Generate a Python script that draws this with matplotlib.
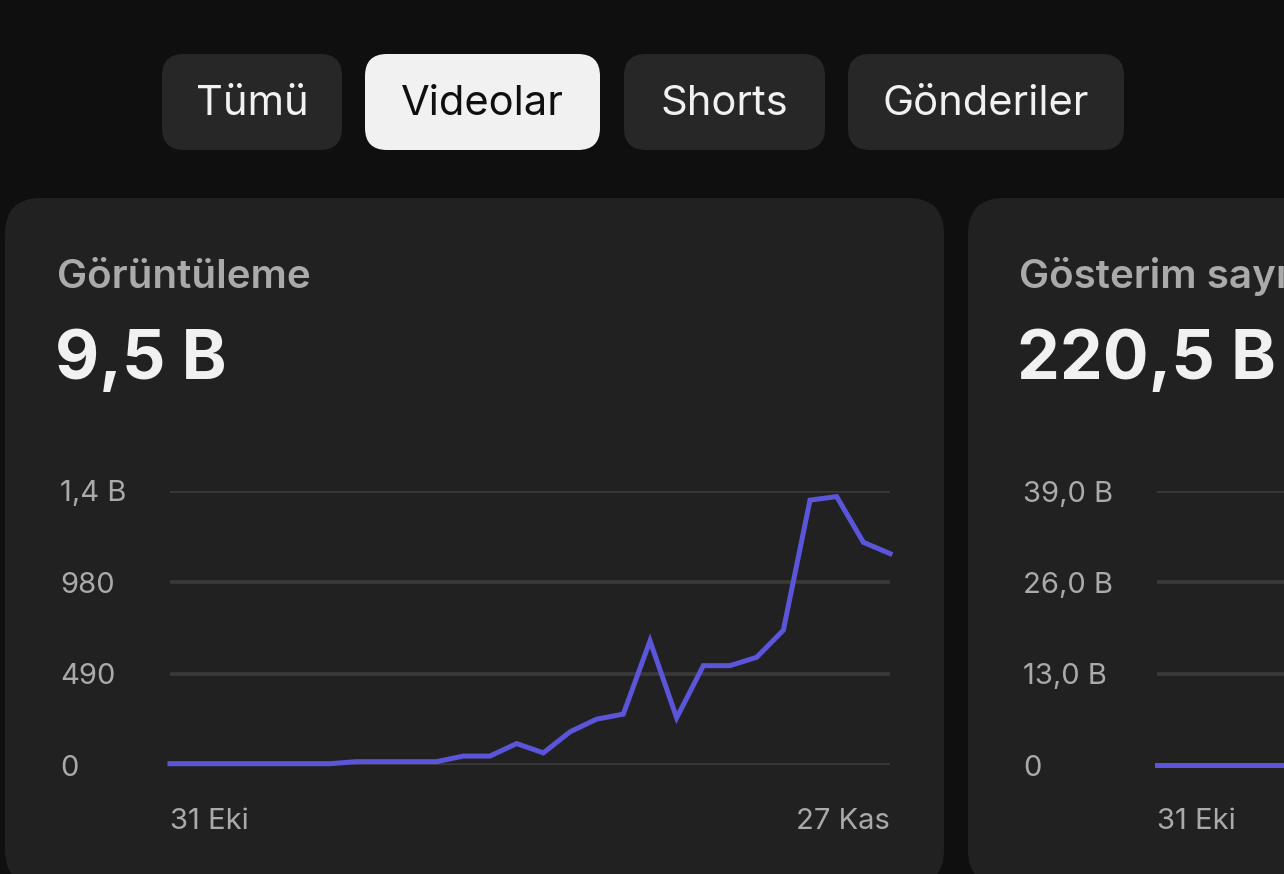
import matplotlib
matplotlib.use("Agg")
import matplotlib.pyplot as plt
from matplotlib.patches import FancyBboxPatch

plt.rcParams['font.family'] = ['Inter', 'DejaVu Sans']

W, H = 1284, 874

# tabs
tab_names = ["Tümü", "Videolar", "Shorts", "Gönderiler"]
tab_left = [162, 365, 624, 848]
tab_right = [342, 600, 825, 1124]
active_tab = "Videolar"

# card 1: views per day (31 Eki .. 27 Kas)
views = [7, 7, 7, 7, 7, 7, 7, 18, 18, 18, 18, 48, 48, 115, 65, 178,
         246, 273, 666, 253, 533, 533, 578, 723, 1421, 1440, 1195, 1134]
views_ticks = [0, 490, 980, 1470]
views_ticklabels = ["0", "490", "980", "1,4 B"]

# card 2: impressions, only the start is visible
impressions = [0, 0, 0, 0, 0, 0]
impr_ticks = [0, 13000, 26000, 39000]
impr_ticklabels = ["0", "13,0 B", "26,0 B", "39,0 B"]

date_labels = ["31 Eki", "27 Kas"]

bg = "#0f0f0f"
card = "#212121"
grey = "#aaaaaa"
purple = "#5b55d9"

fig = plt.figure(figsize=(W / 100, H / 100), dpi=100, facecolor=bg)
bgax = fig.add_axes([0, 0, 1, 1])
bgax.set_xlim(0, W)
bgax.set_ylim(H, 0)
bgax.axis("off")


def rbox(x0, y0, x1, y1, r, color):
    p = FancyBboxPatch((x0 + r, y0 + r), x1 - x0 - 2 * r, y1 - y0 - 2 * r,
                       boxstyle="round,pad=%d" % r, fc=color, ec="none")
    bgax.add_patch(p)


for name, l, r in zip(tab_names, tab_left, tab_right):
    on = name == active_tab
    rbox(l, 54, r, 150, 22, "#f1f1f1" if on else "#272727")
    bgax.text((l + r) / 2, 104, name, ha="center", va="center", fontsize=30,
              color="#0f0f0f" if on else "#f1f1f1")

# cards
rbox(5, 198, 944, 886, 36, card)
rbox(968, 198, 2000, 886, 36, card)

bgax.text(57, 277, "Görüntüleme", fontsize=29, color=grey, weight="semibold", va="center")
bgax.text(55, 361, "9,5 B", fontsize=49, color="#f1f1f1", weight="bold", va="center")
bgax.text(1019, 277, "Gösterim sayısı", fontsize=29, color=grey, weight="semibold", va="center")
bgax.text(1017, 361, "220,5 B", fontsize=49, color="#f1f1f1", weight="bold", va="center")


def chart(left, data, ticks, ticklabels, ypad, dates):
    ax = fig.add_axes([left / W, 1 - 765 / H, 720 / W, (765 - 491) / H])
    ax.set_facecolor("none")
    ax.plot(range(len(data)), data, color=purple, lw=3.6, clip_on=False,
            solid_joinstyle="miter", zorder=3)
    ax.set_xlim(0, 27)
    ax.set_ylim(ticks[0], ticks[-1])
    ax.set_yticks(ticks)
    ax.set_yticklabels(ticklabels, ha="left")
    ax.set_xticks([0, 27][:len(dates)])
    xl = ax.set_xticklabels(dates)
    xl[0].set_ha("left")
    if len(xl) > 1:
        xl[1].set_ha("right")
    ax.tick_params(axis="y", length=0, pad=ypad, labelsize=21, labelcolor=grey)
    ax.tick_params(axis="x", length=0, pad=31, labelsize=21, labelcolor=grey)
    ax.grid(axis="y", color="#3a3a3a", lw=2.6)
    ax.set_axisbelow(True)
    for s in ax.spines.values():
        s.set_visible(False)
    return ax


chart(170, views, views_ticks, views_ticklabels, 110 * 0.72, date_labels)
chart(1157, impressions, impr_ticks, impr_ticklabels, 134 * 0.72, date_labels[:1])

fig.savefig("out.png", dpi=100, facecolor=bg)
